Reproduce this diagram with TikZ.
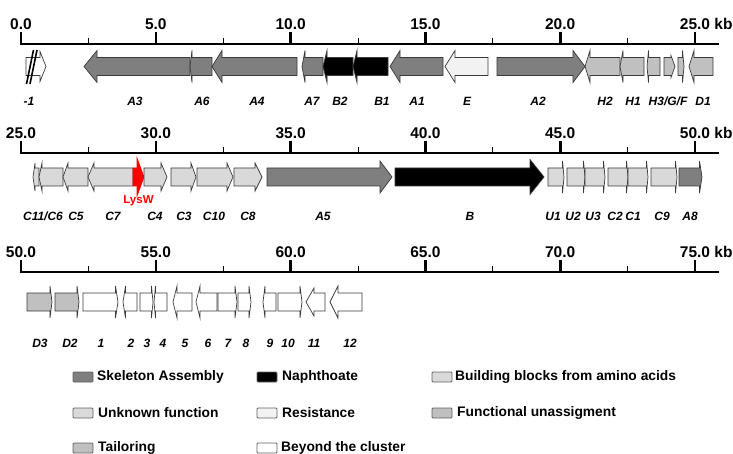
\documentclass[tikz,border=0pt]{standalone}
\usepackage{fontspec}
\setmainfont{Liberation Sans}
\definecolor{skel}{HTML}{7F7F7F}
\definecolor{naph}{HTML}{000000}
\definecolor{bblock}{HTML}{D9D9D9}
\definecolor{unkn}{HTML}{DADADA}
\definecolor{resist}{HTML}{F2F2F2}
\definecolor{funcu}{HTML}{BFBFBF}
\definecolor{tail}{HTML}{C0C0C0}
\definecolor{lysred}{HTML}{FF0000}
\definecolor{outl}{HTML}{3A3A3A}

% right-pointing gene: [head half-height]{y}{start}{end}{head length}{style}
\newcommand\rgene[6][16]{%
  \draw[gene,#6] ({#3},{#2-9}) -- ({#4-#5},{#2-9}) -- ({#4-#5},{#2-#1}) -- ({#4},{#2})
    -- ({#4-#5},{#2+#1}) -- ({#4-#5},{#2+9}) -- ({#3},{#2+9}) -- cycle;}
% left-pointing gene: tip at start
\newcommand\lgene[6][16]{%
  \draw[gene,#6] ({#4},{#2-9}) -- ({#3+#5},{#2-9}) -- ({#3+#5},{#2-#1}) -- ({#3},{#2})
    -- ({#3+#5},{#2+#1}) -- ({#3+#5},{#2+9}) -- ({#4},{#2+9}) -- cycle;}

\begin{document}
\begin{tikzpicture}[x=1pt,y=-1pt,
  gene/.style={draw=outl,line width=0.7pt,line join=miter},
  axisline/.style={line width=2.6pt},
  majortick/.style={line width=2.6pt},
  minortick/.style={line width=1pt},
  ticklab/.style={font=\fontsize{15.5}{16}\selectfont\bfseries,inner sep=0pt},
  glab/.style={font=\fontsize{12}{12}\selectfont\bfseries\itshape,inner sep=0pt},
  legsw/.style={draw=outl!80,line width=0.8pt,rounded corners=1pt,minimum width=20pt,minimum height=10pt,inner sep=0pt},
  legtxt/.style={font=\fontsize{13.8}{14}\selectfont\bfseries,anchor=west,inner sep=0pt}]
\useasboundingbox (0,0) rectangle (733,454);

% ---- scale bars (kb) ----
\foreach \row/\ay/\k in {1/44/0,2/153/25,3/272/50}{
  \draw[axisline] (20,\ay) -- (719,\ay);
  \foreach \i in {0,...,5}{
    \draw[majortick] ({21+134.8*\i},{\ay+1}) -- ({21+134.8*\i},{\ay-12});
    \pgfmathtruncatemacro\val{\k+5*\i}
    \node[ticklab] (t\row-\i) at ({21+134.8*\i},{\ay-20}) {\val.0};
  }
  \foreach \i in {0,...,4}{
    \draw[minortick] ({88.4+134.8*\i},\ay) -- ({88.4+134.8*\i},{\ay-6});
  }
}
\node[ticklab,anchor=base west] (kb1) at ([xshift=4pt]t1-5.base east) {kb};
\node[ticklab,anchor=base west] (kb2) at ([xshift=4pt]t2-5.base east) {kb};
\node[ticklab,anchor=base west] (kb3) at ([xshift=4pt]t3-5.base east) {kb};

% ---- row 1: 0-25 kb ----
\rgene[15]{66.5}{26}{46}{6}{fill=white}
\draw[line width=1.6pt] (33.5,50) -- (26.5,84);
\draw[line width=1.6pt] (37,50) -- (30,84);
\lgene{66.5}{84}{190}{13}{fill=skel}
\lgene{66.5}{190}{212}{2}{fill=skel}
\lgene{66.5}{212}{297}{10}{fill=skel}
\lgene{66.5}{302}{323}{3}{fill=skel}
\lgene{66.5}{323}{353}{4}{fill=naph}
\lgene{66.5}{353}{388}{4}{fill=naph}
\lgene{66.5}{390}{443}{10}{fill=skel}
\lgene{66.5}{445}{488}{10}{fill=resist}
\rgene{66.5}{497}{585}{12}{fill=skel}
\lgene{66.5}{585}{620}{5}{fill=tail}
\lgene{66.5}{620}{644}{3}{fill=tail}
\lgene{66.5}{647}{660}{1.5}{fill=tail}
\rgene[11]{66.5}{664}{675}{4}{fill=tail}
\rgene{66.5}{678}{684}{1.5}{fill=tail}
\lgene{66.5}{689}{713}{5}{fill=tail}

\foreach \x/\t/\n in {29/-1/m1,135/A3/A3,202/A6/A6,257/A4/A4,312/A7/A7,340/B2/B2,382/B1/B1,
  417/A1/A1,467/E/E,538/A2/A2,605/H2/H2,633/H1/H1,668/H3\slash G\slash F/H3GF,703/D1/D1}
  \node[glab] (l-\n) at (\x,101.5) {\t};

% ---- row 2: 25-50 kb ----
\lgene[14]{177}{33}{39}{2}{fill=bblock}
\lgene[14]{177}{39}{63}{3}{fill=bblock}
\lgene[14]{177}{63}{88}{5}{fill=bblock}
\lgene[14]{177}{88}{133}{6}{fill=bblock}
\rgene[19]{177}{133}{144}{7}{fill=lysred,draw=lysred}
\rgene[14]{177}{144}{167}{6}{fill=bblock}
\rgene[14]{177}{171}{196}{5}{fill=bblock}
\rgene[14]{177}{197}{233}{6}{fill=bblock}
\rgene[14]{177}{234}{262}{7}{fill=bblock}
\rgene{177}{267}{392}{12}{fill=skel}
\rgene[17.5]{177}{395}{544}{14}{fill=naph}
\rgene{177}{548}{564}{1.5}{fill=unkn}
\rgene{177}{567}{585}{1.5}{fill=unkn}
\rgene{177}{585}{605}{1.5}{fill=unkn}
\rgene{177}{608}{628}{1.5}{fill=bblock}
\rgene{177}{628}{648}{1.5}{fill=bblock}
\rgene{177}{651}{677}{1.5}{fill=bblock}
\rgene{177}{679}{702}{2.5}{fill=skel}

\node[font=\fontsize{11.5}{12}\selectfont\bfseries,text=lysred,inner sep=0pt] (lysw) at (138.5,201) {LysW};
\foreach \x/\t/\n in {43/C11\slash C6/C11C6,76/C5/C5,113/C7/C7,155/C4/C4,184/C3/C3,214/C10/C10,
  248/C8/C8,323/A5/A5,470/B/B,553/U1/U1,573/U2/U2,593/U3/U3,615/C2/C2,633/C1/C1,662/C9/C9,690/A8/A8}
  \node[glab] (l-\n) at (\x,216) {\t};

% ---- row 3: 50-75 kb ----
\rgene{302}{27}{52}{2}{fill=tail}
\rgene{302}{55}{79}{2}{fill=tail}
\rgene{302}{83}{118}{2.5}{fill=white}
\lgene{302}{123}{137}{2.5}{fill=white}
\rgene{302}{140}{153}{1.5}{fill=white}
\lgene{302}{154}{167}{1.5}{fill=white}
\lgene{302}{173}{192}{4}{fill=white}
\lgene{302}{196}{217}{4}{fill=white}
\rgene{302}{218}{237}{2}{fill=white}
\rgene{302}{238}{251}{2}{fill=white}
\lgene{302}{263}{276}{2}{fill=white}
\rgene{302}{278}{302}{2}{fill=white}
\lgene[14]{302}{306}{325}{8}{fill=white}
\lgene{302}{330}{362}{8}{fill=white}

\foreach \x/\t in {40/D3,70/D2,101/1,131/2,147/3,163/4,185/5,208/6,228/7,246/8,270/9,288/10,314/11,350/12}
  \node[glab] (l-\t) at (\x,343) {\t};

% ---- legend ----
\node[legsw,fill=skel] (sw-skel) at (83,377) {};
\node[legtxt] (tx-skel) at (97,377) {Skeleton Assembly};
\node[legsw,fill=naph] (sw-naph) at (267,377) {};
\node[legtxt] (tx-naph) at (282,377) {Naphthoate};
\node[legsw,fill=bblock] (sw-bb) at (442,377) {};
\node[legtxt] (tx-bb) at (455,377) {Building blocks from amino acids};
\node[legsw,fill=unkn] (sw-unk) at (83,413) {};
\node[legtxt] (tx-unk) at (98,413) {Unknown function};
\node[legsw,fill=resist] (sw-res) at (267,413) {};
\node[legtxt] (tx-res) at (282,413) {Resistance};
\node[legsw,fill=funcu] (sw-fu) at (442,413) {};
\node[legtxt] (tx-fu) at (457,413) {Functional unassigment};
\node[legsw,fill=tail] (sw-tail) at (83,448) {};
\node[legtxt] (tx-tail) at (98,448) {Tailoring};
\node[legsw,fill=white] (sw-bey) at (267,448) {};
\node[legtxt] (tx-bey) at (281,448) {Beyond the cluster};
\end{tikzpicture}
\end{document}
